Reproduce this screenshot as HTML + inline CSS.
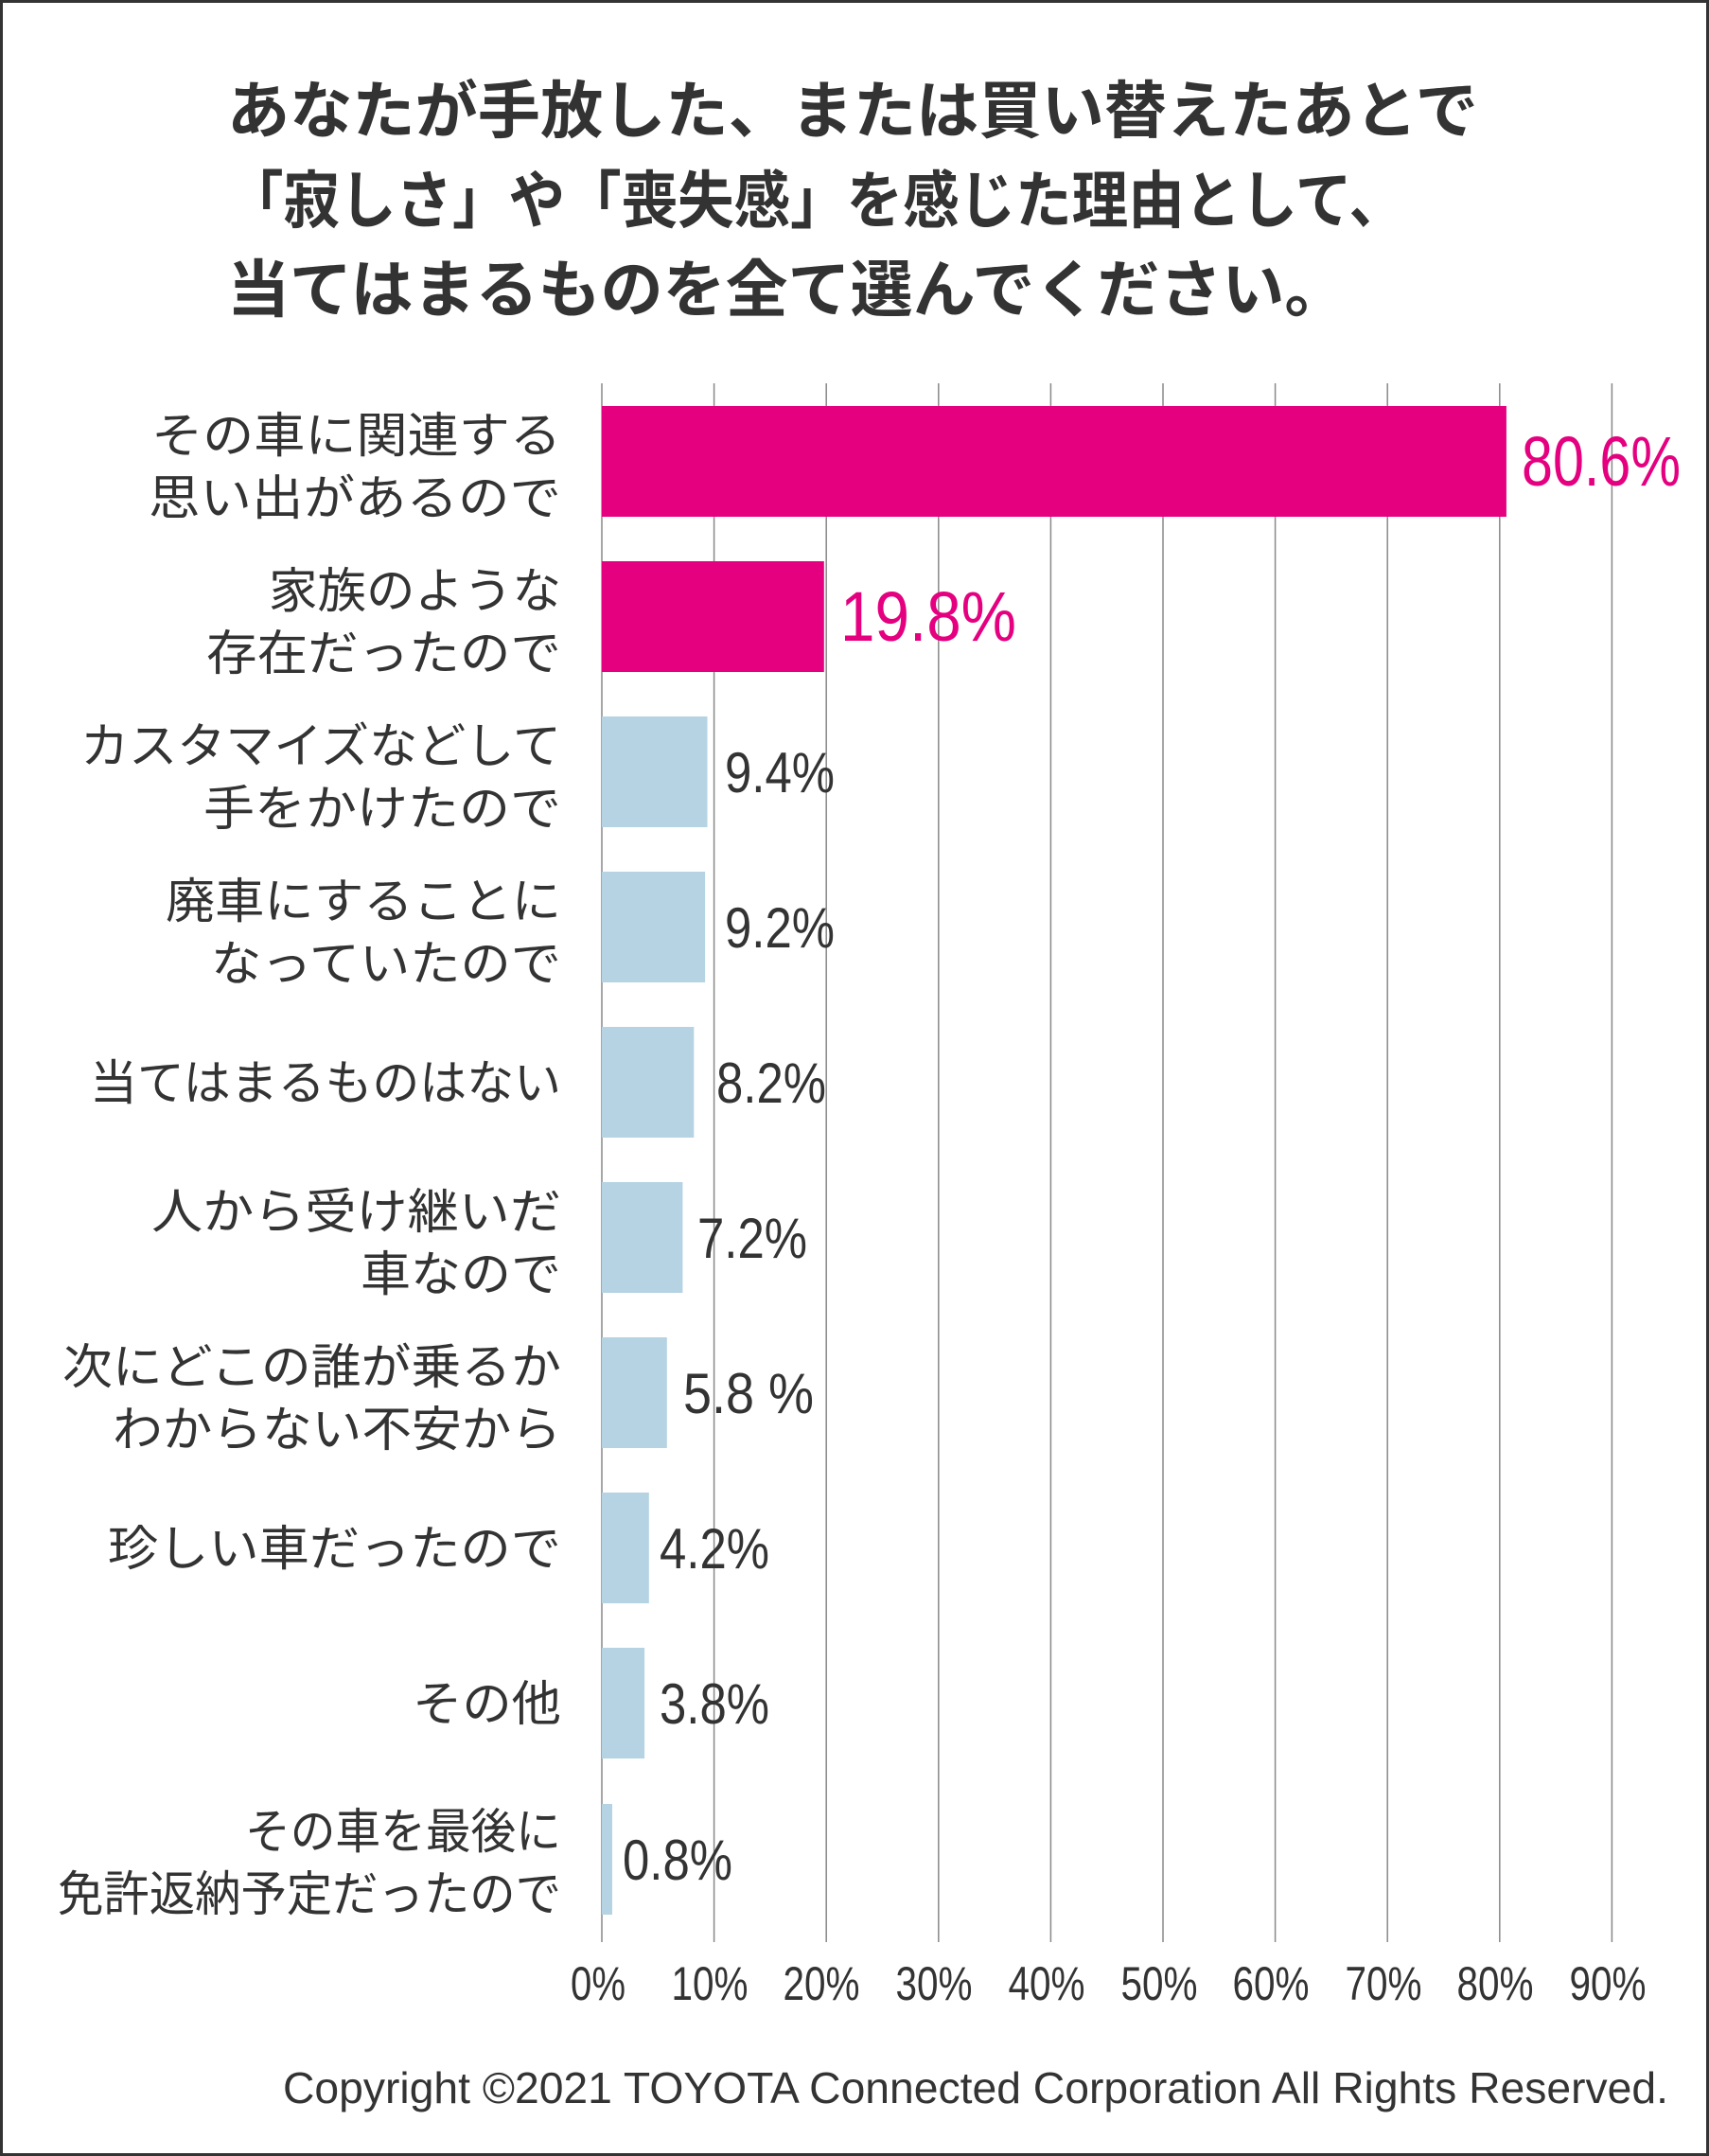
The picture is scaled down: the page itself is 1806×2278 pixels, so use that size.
<!DOCTYPE html>
<html><head><meta charset="utf-8"><style>
html,body{margin:0;padding:0;background:#fff}
svg{display:block}
.t{font-family:"Liberation Sans","Noto Sans CJK JP",sans-serif;font-weight:bold;font-size:66px;fill:#333}
.c{font-family:"Liberation Sans","Noto Sans CJK JP",sans-serif;font-size:51px;fill:#333;text-anchor:end}
.v{font-family:"Liberation Sans",sans-serif;font-size:60px;fill:#333}
.p{font-family:"Liberation Sans",sans-serif;font-size:74px;fill:#E4007F}
.x{font-family:"Liberation Sans",sans-serif;font-size:50px;fill:#333;text-anchor:middle}
.f{font-family:"Liberation Sans",sans-serif;font-size:46px;fill:#333}
</style></head><body>
<svg width="1806" height="2278" viewBox="0 0 1806 2278" xmlns="http://www.w3.org/2000/svg">
<rect x="1.5" y="1.5" width="1803" height="2275" fill="#fff" stroke="#333" stroke-width="3"/>
<text class="t" x="240" y="140" textLength="1322" lengthAdjust="spacingAndGlyphs">あなたが手放した、または買い替えたあとで</text>
<text class="t" x="240" y="235" textLength="1245" lengthAdjust="spacingAndGlyphs">「寂しさ」や「喪失感」を感じた理由として、</text>
<text class="t" x="240" y="329">当てはまるものを全て選んでください。</text>
<g stroke="#888" stroke-width="1.5">
<line x1="636" y1="405" x2="636" y2="2052"/><line x1="754.6" y1="405" x2="754.6" y2="2052"/><line x1="873.2" y1="405" x2="873.2" y2="2052"/><line x1="991.8" y1="405" x2="991.8" y2="2052"/><line x1="1110.4" y1="405" x2="1110.4" y2="2052"/><line x1="1229" y1="405" x2="1229" y2="2052"/><line x1="1347.6" y1="405" x2="1347.6" y2="2052"/><line x1="1466.2" y1="405" x2="1466.2" y2="2052"/><line x1="1584.8" y1="405" x2="1584.8" y2="2052"/><line x1="1703.4" y1="405" x2="1703.4" y2="2052"/>
</g>
<rect x="636" y="429" width="955.9" height="117" fill="#E4007F"/>
<rect x="636" y="593" width="234.8" height="117" fill="#E4007F"/>
<g fill="#B6D3E3">
<rect x="636" y="757" width="111.5" height="117"/>
<rect x="636" y="921" width="109.1" height="117"/>
<rect x="636" y="1085" width="97.3" height="117"/>
<rect x="636" y="1249" width="85.4" height="117"/>
<rect x="636" y="1413" width="68.8" height="117"/>
<rect x="636" y="1577" width="49.8" height="117"/>
<rect x="636" y="1741" width="45.1" height="117"/>
<rect x="636" y="1906" width="11" height="117"/>
</g>
<text class="p" x="1608" y="513" textLength="168" lengthAdjust="spacingAndGlyphs">80.6%</text>
<text class="p" x="888" y="677" textLength="186" lengthAdjust="spacingAndGlyphs">19.8%</text>
<text class="v" x="766" y="837" textLength="116" lengthAdjust="spacingAndGlyphs">9.4%</text>
<text class="v" x="766" y="1001" textLength="116" lengthAdjust="spacingAndGlyphs">9.2%</text>
<text class="v" x="757" y="1165" textLength="116" lengthAdjust="spacingAndGlyphs">8.2%</text>
<text class="v" x="737" y="1329" textLength="116" lengthAdjust="spacingAndGlyphs">7.2%</text>
<text class="v" x="722" y="1493" textLength="138" lengthAdjust="spacingAndGlyphs">5.8 %</text>
<text class="v" x="697" y="1657" textLength="116" lengthAdjust="spacingAndGlyphs">4.2%</text>
<text class="v" x="697" y="1821" textLength="116" lengthAdjust="spacingAndGlyphs">3.8%</text>
<text class="v" x="658" y="1986" textLength="116" lengthAdjust="spacingAndGlyphs">0.8%</text>
<g lengthAdjust="spacingAndGlyphs">
<text class="c" x="593" y="478" textLength="433" lengthAdjust="spacingAndGlyphs">その車に関連する</text>
<text class="c" x="593" y="544" textLength="436" lengthAdjust="spacingAndGlyphs">思い出があるので</text>
<text class="c" x="593" y="642" textLength="309" lengthAdjust="spacingAndGlyphs">家族のような</text>
<text class="c" x="593" y="708" textLength="375" lengthAdjust="spacingAndGlyphs">存在だったので</text>
<text class="c" x="593" y="806" textLength="508" lengthAdjust="spacingAndGlyphs">カスタマイズなどして</text>
<text class="c" x="593" y="872" textLength="378" lengthAdjust="spacingAndGlyphs">手をかけたので</text>
<text class="c" x="593" y="970" textLength="418" lengthAdjust="spacingAndGlyphs">廃車にすることに</text>
<text class="c" x="593" y="1036" textLength="370" lengthAdjust="spacingAndGlyphs">なっていたので</text>
<text class="c" x="593" y="1162" textLength="498" lengthAdjust="spacingAndGlyphs">当てはまるものはない</text>
<text class="c" x="593" y="1298" textLength="433" lengthAdjust="spacingAndGlyphs">人から受け継いだ</text>
<text class="c" x="593" y="1364" textLength="212" lengthAdjust="spacingAndGlyphs">車なので</text>
<text class="c" x="593" y="1462" textLength="527" lengthAdjust="spacingAndGlyphs">次にどこの誰が乗るか</text>
<text class="c" x="593" y="1528" textLength="474" lengthAdjust="spacingAndGlyphs">わからない不安から</text>
<text class="c" x="593" y="1654" textLength="479" lengthAdjust="spacingAndGlyphs">珍しい車だったので</text>
<text class="c" x="593" y="1818" textLength="157" lengthAdjust="spacingAndGlyphs">その他</text>
<text class="c" x="593" y="1953" textLength="334" lengthAdjust="spacingAndGlyphs">その車を最後に</text>
<text class="c" x="593" y="2019" textLength="532" lengthAdjust="spacingAndGlyphs">免許返納予定だったので</text>
</g>
<text class="x" x="632" y="2113" textLength="58" lengthAdjust="spacingAndGlyphs">0%</text>
<text class="x" x="750" y="2113" textLength="81" lengthAdjust="spacingAndGlyphs">10%</text>
<text class="x" x="868" y="2113" textLength="81" lengthAdjust="spacingAndGlyphs">20%</text>
<text class="x" x="987" y="2113" textLength="81" lengthAdjust="spacingAndGlyphs">30%</text>
<text class="x" x="1106" y="2113" textLength="81" lengthAdjust="spacingAndGlyphs">40%</text>
<text class="x" x="1225" y="2113" textLength="81" lengthAdjust="spacingAndGlyphs">50%</text>
<text class="x" x="1343" y="2113" textLength="81" lengthAdjust="spacingAndGlyphs">60%</text>
<text class="x" x="1462" y="2113" textLength="81" lengthAdjust="spacingAndGlyphs">70%</text>
<text class="x" x="1580" y="2113" textLength="81" lengthAdjust="spacingAndGlyphs">80%</text>
<text class="x" x="1699" y="2113" textLength="81" lengthAdjust="spacingAndGlyphs">90%</text>
<text class="f" x="299" y="2222" textLength="1464" lengthAdjust="spacingAndGlyphs">Copyright ©2021 TOYOTA Connected Corporation All Rights Reserved.</text>
</svg>
</body></html>
